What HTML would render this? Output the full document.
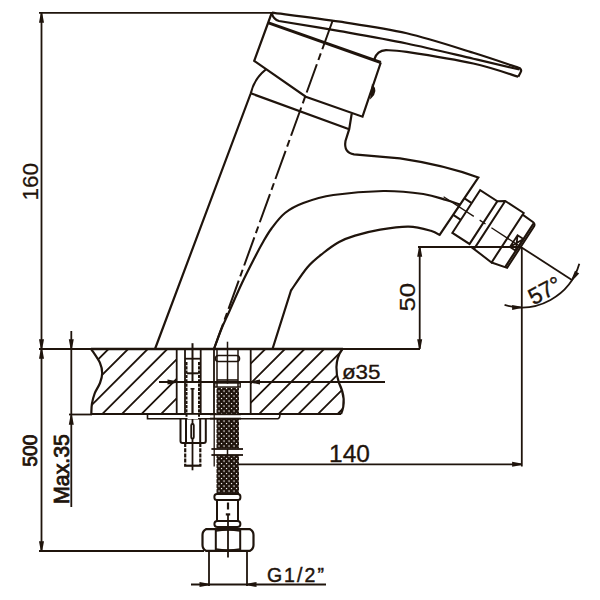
<!DOCTYPE html>
<html><head><meta charset="utf-8"><style>
html,body{margin:0;padding:0;background:#fff;}
svg{display:block;}
text{fill:#1f140c;font-family:"Liberation Sans",sans-serif;}
</style></head><body>
<svg width="600" height="600" viewBox="0 0 600 600" stroke="#1f140c" fill="none" stroke-linecap="butt" stroke-linejoin="miter">
<rect x="0" y="0" width="600" height="600" fill="#fff" stroke="none"/>
<line x1="39" y1="12.8" x2="272" y2="12.8" stroke-width="1.8" />
<line x1="41.5" y1="12.8" x2="41.5" y2="551" stroke-width="1.8" />
<path d="M42.20,13.20 L44.00,22.70 L39.00,22.70 L40.80,13.20 Z" fill="#1f140c" stroke="none"/>
<path d="M40.80,348.80 L39.00,339.30 L44.00,339.30 L42.20,348.80 Z" fill="#1f140c" stroke="none"/>
<path d="M42.20,349.20 L44.00,358.70 L39.00,358.70 L40.80,349.20 Z" fill="#1f140c" stroke="none"/>
<path d="M40.80,550.80 L39.00,541.30 L44.00,541.30 L42.20,550.80 Z" fill="#1f140c" stroke="none"/>
<line x1="39" y1="349" x2="420" y2="349" stroke-width="1.8" />
<line x1="71.3" y1="331" x2="71.3" y2="507" stroke-width="1.8" />
<path d="M70.60,348.80 L68.80,339.30 L73.80,339.30 L72.00,348.80 Z" fill="#1f140c" stroke="none"/>
<path d="M72.00,415.20 L73.80,424.70 L68.80,424.70 L70.60,415.20 Z" fill="#1f140c" stroke="none"/>
<line x1="69" y1="414.5" x2="92" y2="414.5" stroke-width="1.8" />
<line x1="39" y1="551" x2="204" y2="551" stroke-width="1.8" />
<line x1="419.7" y1="247" x2="419.7" y2="349" stroke-width="1.8" />
<path d="M420.40,247.20 L422.20,256.70 L417.20,256.70 L419.00,247.20 Z" fill="#1f140c" stroke="none"/>
<path d="M419.00,348.80 L417.20,339.30 L422.20,339.30 L420.40,348.80 Z" fill="#1f140c" stroke="none"/>
<line x1="418" y1="247" x2="521.6" y2="247" stroke-width="1.8" />
<line x1="521.8" y1="247" x2="521.8" y2="466.5" stroke-width="1.8" />
<line x1="239" y1="464.3" x2="521.8" y2="464.3" stroke-width="1.8" />
<path d="M521.60,465.00 L512.10,466.80 L512.10,461.80 L521.60,463.60 Z" fill="#1f140c" stroke="none"/>
<line x1="159" y1="382" x2="385" y2="382" stroke-width="1.8" />
<path d="M177.00,382.70 L167.50,384.50 L167.50,379.50 L177.00,381.30 Z" fill="#1f140c" stroke="none"/>
<path d="M250.50,381.30 L260.00,379.50 L260.00,384.50 L250.50,382.70 Z" fill="#1f140c" stroke="none"/>
<line x1="209" y1="551" x2="209" y2="586" stroke-width="1.8" />
<line x1="247" y1="551" x2="247" y2="586" stroke-width="1.8" />
<line x1="191" y1="584.5" x2="326" y2="584.5" stroke-width="1.8" />
<path d="M209.00,585.20 L199.50,587.00 L199.50,582.00 L209.00,583.80 Z" fill="#1f140c" stroke="none"/>
<path d="M247.00,583.80 L256.50,582.00 L256.50,587.00 L247.00,585.20 Z" fill="#1f140c" stroke="none"/>
<path d="M504.56,304.93 A60,60 0 0 0 579.30,263.84" fill="none" stroke-width="1.8"/>
<path d="M521.60,308.10 L512.10,309.90 L512.10,304.90 L521.60,306.70 Z" fill="#1f140c" stroke="none"/>
<path d="M571.33,279.70 L575.00,270.75 L579.19,273.47 L572.51,280.46 Z" fill="#1f140c" stroke="none"/>
<line x1="521.6" y1="247.4" x2="571.9202340767255" y2="280.07834210090164" stroke-width="1.8" />
<text x="38.5" y="181.8" font-size="22.5" text-anchor="middle" transform="rotate(-90 38.5 181.8)" textLength="37.6" lengthAdjust="spacingAndGlyphs" stroke="#1f140c" stroke-width="0.25" font-family="Liberation Sans, sans-serif">160</text>
<text x="37.5" y="450.7" font-size="20" text-anchor="middle" transform="rotate(-90 37.5 450.7)" textLength="32" lengthAdjust="spacingAndGlyphs" stroke="#1f140c" stroke-width="0.8" font-family="Liberation Sans, sans-serif">500</text>
<text x="69" y="469" font-size="22" text-anchor="middle" transform="rotate(-90 69 469)" textLength="70" lengthAdjust="spacingAndGlyphs" stroke="#1f140c" stroke-width="0.8" font-family="Liberation Sans, sans-serif">Max.35</text>
<text x="414.7" y="297.2" font-size="22.5" text-anchor="middle" transform="rotate(-90 414.7 297.2)" textLength="28.8" lengthAdjust="spacingAndGlyphs" stroke="#1f140c" stroke-width="0.25" font-family="Liberation Sans, sans-serif">50</text>
<text x="349.5" y="461.7" font-size="23.5" text-anchor="middle" textLength="40.8" lengthAdjust="spacingAndGlyphs" stroke="#1f140c" stroke-width="0.3" font-family="Liberation Sans, sans-serif">140</text>
<text x="361.2" y="378.5" font-size="19.5" text-anchor="middle" textLength="38.6" lengthAdjust="spacingAndGlyphs" stroke="#1f140c" stroke-width="0.3" font-family="Liberation Sans, sans-serif">ø35</text>
<text x="295.4" y="581.7" font-size="19.5" text-anchor="middle" textLength="57" lengthAdjust="spacing" stroke="#1f140c" stroke-width="0.45" font-family="Liberation Sans, sans-serif">G1/2”</text>
<text x="548.5" y="297.5" font-size="23" text-anchor="middle" transform="rotate(-28 548.5 297.5)" textLength="34" lengthAdjust="spacingAndGlyphs" stroke="#1f140c" stroke-width="0.4" font-family="Liberation Sans, sans-serif">57°</text>
<path d="M271.7,13 L254.2,60.8 L305.8,96.7 L362.5,116.7 L380.8,62.5" stroke-width="2.2" fill="none" />
<path d="M268.5,22.8 L380.8,62.5" stroke-width="3.0" fill="none" />
<path d="M272,12.6 C283.33,14.12 317.55,18.25 340,21.7 C362.45,25.15 384.48,28.12 406.7,33.3 C428.92,38.48 454.42,46.97 473.3,52.8 C492.18,58.63 512.22,65.72 520,68.3 Q522,70 520.5,72.5 L518.3,76.7" stroke-width="2.2" fill="none" />
<path d="M271.9,13.5 Q273.5,19.5 279,21  C289.17,22.70 318.72,27.45 340,31.2 C361.28,34.95 384.48,38.92 406.7,43.5 C428.92,48.08 454.50,54.37 473.3,58.7 C492.10,63.03 511.80,67.70 519.5,69.5" stroke-width="2.2" fill="none" />
<path d="M374.2,59.6 Q377,50.5 386,50.2  C389.45,50.48 392.15,49.68 406.7,51.9 C421.25,54.12 454.70,59.37 473.3,63.5 C491.90,67.63 510.80,74.50 518.3,76.7" stroke-width="2.2" fill="none" />
<path d="M372.5,85.5 Q377.5,91 371,97.5 Z" stroke-width="1.5" fill="#1f140c" />
<path d="M265.8,69.5 Q254,79 250.8,93.3 L155,349" stroke-width="2.2" fill="none" />
<path d="M250.8,93.3 L349.2,129.2" stroke-width="2.2" fill="none" />
<path d="M351.7,113.8 L349.2,129.2 L345.5,141 Q343.5,152.5 354,154.3 L400,158.3 Q445,165 478.3,177.5 L439.3,235.3" stroke-width="2.2" fill="none" />
<path d="M214,349 C215.17,345.83 218.50,336.17 221,330 C223.50,323.83 225.50,319.83 229,312 C232.50,304.17 237.75,292.00 242,283 C246.25,274.00 251.08,264.67 254.5,258 C257.92,251.33 259.67,247.92 262.5,243 C265.33,238.08 267.75,233.50 271.5,228.5 C275.25,223.50 279.70,217.25 285,213 C290.30,208.75 295.25,206.00 303.3,203 C311.35,200.00 319.97,197.00 333.3,195 C346.63,193.00 368.30,191.17 383.3,191 C398.30,190.83 412.85,192.50 423.3,194 C433.75,195.50 439.88,198.25 446,200 C452.12,201.75 457.67,203.75 460,204.5" stroke-width="2.2" fill="none" />
<path d="M272.5,349 L291,290.5  C293.75,286.62 302.12,273.45 307.5,267.2 C312.88,260.95 318.03,257.20 323.3,253 C328.57,248.80 333.82,244.90 339.1,242 C344.38,239.10 348.15,237.67 355,235.6 C361.85,233.53 371.25,231.10 380.2,229.6 C389.15,228.10 400.25,226.40 408.7,226.6 C417.15,226.80 425.68,229.35 430.9,230.8 C436.12,232.25 438.48,234.55 440,235.3" stroke-width="2.2" fill="none" />
<line x1="332.5" y1="21" x2="214" y2="349" stroke-width="2" stroke-dasharray="30 4.5 7 4.5"/>
<g transform="translate(521.6,247.4) rotate(33)" stroke-width="2">
<path d="M-75,-10 L-66,-10 M-75,10 L-66,10" />
<path d="M-66,-25.5 L-45.5,-25.5 L-45.5,25.5 L-66,25.5 Z" fill="none"/>
<path d="M-45.5,-25.5 L-39,-30 L-17,-30 L-17,29 L-43,27 M-39,-30 L-39,28" fill="none"/>
<path d="M-17,-28 L-4,-27.5 Q-1,-27 -1,-24 L-1,25 L-17,29" fill="none"/>
<path d="M-3,-26.5 L-3,25.5" fill="none" stroke-width="2.2"/>
<path d="M-10,-8 L-3,-8 L-3,6 L-10,6 Z M-10,-8 L-3,6 M-3,-8 L-10,6" fill="none" stroke-width="1.8"/>
<line x1="-93" y1="0" x2="-57" y2="0" stroke-width="1.3"/><line x1="-50" y1="0" x2="-43" y2="0" stroke-width="1.3"/><line x1="-36" y1="0" x2="0" y2="0" stroke-width="1.3"/>
</g>
<path d="M91,349 L343,349" stroke-width="2.5" fill="none" />
<path d="M91,414 L341,414" stroke-width="2.0" fill="none" />
<path d="M91.3,349.3 C92.75,351.58 98.18,359.00 100,363 C101.82,367.00 102.20,369.97 102.2,373.3 C102.20,376.63 101.25,379.67 100,383 C98.75,386.33 96.05,389.80 94.7,393.3 C93.35,396.80 92.47,400.55 91.9,404 C91.33,407.45 91.40,412.33 91.3,414" stroke-width="2.2" fill="none" />
<path d="M342.5,349 C334,360 336,375 339,383 C345,395 345,405 341,414" stroke-width="2.2" fill="none" />
<defs><clipPath id="hl"><path d="M91.3,349.3 C92.75,351.58 98.18,359.00 100,363 C101.82,367.00 102.20,369.97 102.2,373.3 C102.20,376.63 101.25,379.67 100,383 C98.75,386.33 96.05,389.80 94.7,393.3 C93.35,396.80 92.47,400.55 91.9,404 C91.33,407.45 91.40,412.33 91.3,414 L176.7,414 L176.7,349 Z"/></clipPath>
<clipPath id="hr"><path d="M250.7,349 L342.5,349 C334,360 336,375 339,383 C345,395 345,405 341,414 L250.7,414 Z"/></clipPath>
<pattern id="braid" patternUnits="userSpaceOnUse" width="5" height="5" x="0" y="0"><rect width="5" height="5" fill="#1f140c"/><rect x="2.9" y="-0.1" width="2.3" height="2.3" fill="#f2eeec"/><rect x="0.4" y="2.4" width="2.3" height="2.3" fill="#f2eeec"/></pattern></defs>
<path d="M69.3,349 L-0.7000000000000028,419 M88.9,349 L18.900000000000006,419 M108.5,349 L38.5,419 M128.1,349 L58.099999999999994,419 M147.7,349 L77.69999999999999,419 M167.3,349 L97.30000000000001,419 M186.9,349 L116.9,419 M206.5,349 L136.5,419 M226.10000000000002,349 L156.10000000000002,419 M245.70000000000002,349 L175.70000000000002,419 M265.3,349 L195.3,419 M284.9,349 L214.89999999999998,419 M304.5,349 L234.5,419 M324.1,349 L254.10000000000002,419 M343.70000000000005,349 L273.70000000000005,419 M363.3,349 L293.3,419 M382.90000000000003,349 L312.90000000000003,419 M402.5,349 L332.5,419 M422.1,349 L352.1,419 M441.70000000000005,349 L371.70000000000005,419 M461.3,349 L391.3,419 M480.90000000000003,349 L410.90000000000003,419" stroke-width="1.8" clip-path="url(#hl)"/>
<path d="M69.3,349 L-0.7000000000000028,419 M88.9,349 L18.900000000000006,419 M108.5,349 L38.5,419 M128.1,349 L58.099999999999994,419 M147.7,349 L77.69999999999999,419 M167.3,349 L97.30000000000001,419 M186.9,349 L116.9,419 M206.5,349 L136.5,419 M226.10000000000002,349 L156.10000000000002,419 M245.70000000000002,349 L175.70000000000002,419 M265.3,349 L195.3,419 M284.9,349 L214.89999999999998,419 M304.5,349 L234.5,419 M324.1,349 L254.10000000000002,419 M343.70000000000005,349 L273.70000000000005,419 M363.3,349 L293.3,419 M382.90000000000003,349 L312.90000000000003,419 M402.5,349 L332.5,419 M422.1,349 L352.1,419 M441.70000000000005,349 L371.70000000000005,419 M461.3,349 L391.3,419 M480.90000000000003,349 L410.90000000000003,419" stroke-width="1.8" clip-path="url(#hr)"/>
<line x1="176.7" y1="349" x2="176.7" y2="414" stroke-width="1.8" />
<line x1="185" y1="349" x2="185" y2="414" stroke-width="1.8" />
<line x1="200.7" y1="349" x2="200.7" y2="414" stroke-width="1.8" />
<line x1="214" y1="349" x2="214" y2="414" stroke-width="1.8" />
<line x1="250.7" y1="349" x2="250.7" y2="414" stroke-width="1.8" />
<line x1="217" y1="349" x2="217" y2="387" stroke-width="1.5" />
<line x1="238" y1="349" x2="238" y2="387" stroke-width="1.5" />
<line x1="185" y1="358.7" x2="200.5" y2="358.7" stroke-width="1.8" />
<line x1="192.5" y1="343.2" x2="192.5" y2="381" stroke-width="2.0" />
<line x1="192.5" y1="388.4" x2="192.5" y2="419" stroke-width="2.2" />
<line x1="187" y1="373.3" x2="198.5" y2="373.3" stroke-width="2.0" />
<line x1="190.5" y1="388.8" x2="194.5" y2="388.8" stroke-width="1.5" />
<rect x="215.5" y="355.5" width="24" height="6" rx="3" fill="none" stroke-width="1.6"/>
<line x1="217" y1="380" x2="238" y2="380" stroke-width="1.6" />
<rect x="214.7" y="383" width="25.5" height="4" fill="none" stroke-width="1.4"/>
<line x1="227.5" y1="341.7" x2="227.5" y2="383.7" stroke-width="1.5" />
<path d="M147.5,414 L147.5,418.7 L278,418.7 Q280,418 280,414" stroke-width="1.6" fill="none" />
<rect x="216.5" y="387.5" width="22.5" height="61" fill="url(#braid)" stroke="none"/>
<rect x="216.5" y="455" width="22.5" height="39" fill="url(#braid)" stroke="none"/>
<line x1="214.2" y1="414" x2="214.2" y2="466.5" stroke-width="1.3" />
<rect x="215.5" y="415" width="24" height="3" fill="#fff" stroke="none"/>
<line x1="210" y1="414.3" x2="241" y2="414.3" stroke-width="1.8" />
<line x1="210" y1="418.6" x2="241" y2="418.6" stroke-width="1.8" />
<line x1="211.4" y1="449" x2="243" y2="449" stroke-width="1.8" />
<line x1="211.4" y1="455" x2="243" y2="455" stroke-width="1.8" />
<line x1="227.5" y1="449" x2="227.5" y2="455" stroke-width="1.5" />
<rect x="214.4" y="494" width="26" height="6" rx="2.5" fill="none" stroke-width="2"/>
<path d="M217,500 L217,521 M238,500 L238,521" stroke-width="2" fill="none" />
<rect x="214.4" y="521" width="26" height="6" rx="3" fill="none" stroke-width="2"/>
<line x1="228" y1="514.4" x2="228" y2="529" stroke-width="1.8" />
<line x1="228" y1="502.5" x2="228" y2="509.5" stroke-width="2.2" />
<line x1="225.8" y1="514.4" x2="230.2" y2="514.4" stroke-width="2.2" />
<path d="M206,529.2 L250,529.2 Q253.5,531 253.5,535 L253.5,545 Q253.5,549 250,550.8 L206,550.8 Q202.5,549 202.5,545 L202.5,535 Q202.5,531 206,529.2 Z" fill="none" stroke-width="2.2"/>
<path d="M215.8,529.5 L215.8,550.5 M240.2,529.5 L240.2,550.5" stroke-width="2"/>
<path d="M216,531 Q228,529 240,531 M216,549 Q228,551 240,549" stroke-width="1.4"/>
<line x1="228" y1="529" x2="228" y2="557.5" stroke-width="1.8" />
<rect x="186.5" y="414.8" width="12.5" height="4.2" fill="#fff" stroke="none"/>
<path d="M186.5,362 L186.5,419 M199,362 L199,419" stroke-width="2.0" fill="none" stroke-dasharray="3.2 1.1"/>
<path d="M180.5,419 L180.5,441 Q180.5,443 182.5,443 L203.8,443 Q205.8,443 205.8,441 L205.8,419" fill="none" stroke-width="2"/>
<line x1="186" y1="419" x2="186" y2="443" stroke-width="2" />
<line x1="200.2" y1="419" x2="200.2" y2="443" stroke-width="2" />
<rect x="191.2" y="424" width="2.6" height="14.5" rx="1.3" fill="none" stroke-width="1.8"/>
<line x1="192.5" y1="419" x2="192.5" y2="424" stroke-width="1.8" />
<line x1="192.5" y1="438.5" x2="192.5" y2="443" stroke-width="1.8" />
<path d="M185.2,443 L185.2,465.5 M200.3,443 L200.3,465.5" stroke-width="2.2" fill="none" stroke-dasharray="4 1.2"/>
<line x1="184.1" y1="465.7" x2="201.4" y2="465.7" stroke-width="2.2" />
<line x1="192.5" y1="443" x2="192.5" y2="470.3" stroke-width="1.8" />
</svg></body></html>
